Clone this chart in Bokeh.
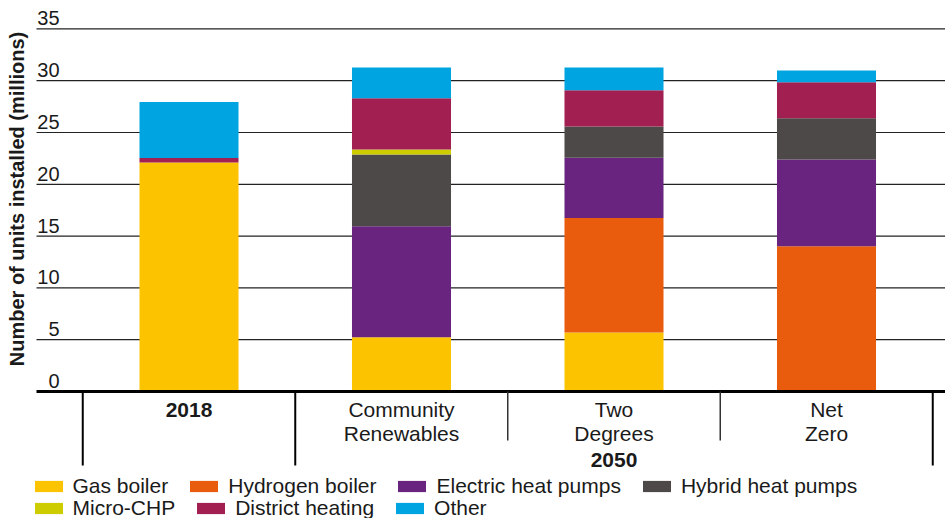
import math
from bokeh.plotting import figure
from bokeh.models import Range1d, Legend, LegendItem, ColumnDataSource
from bokeh.core.properties import value
from bokeh.embed import file_html
from bokeh.resources import INLINE

# ---------------- data ----------------
scenarios = ["2018", "Community\nRenewables", "Two\nDegrees", "Net\nZero"]
groups = ["", "2050", "2050", "2050"]
techs = ["Gas boiler", "Hydrogen boiler", "Electric heat pumps", "Hybrid heat pumps",
         "Micro-CHP", "District heating", "Other"]
gas_boiler = [22.1, 5.24, 5.7, 0.0]
hydrogen_boiler = [0.0, 0.0, 11.04, 14.03]
electric_heat_pumps = [0.0, 10.72, 5.83, 8.36]
hybrid_heat_pumps = [0.0, 6.92, 3.02, 3.99]
micro_chp = [0.0, 0.48, 0.0, 0.0]
district_heating = [0.45, 4.95, 3.5, 3.48]
other = [5.4, 2.96, 2.19, 1.12]
y_ticks = [0, 5, 10, 15, 20, 25, 30, 35]
y_title = "Number of units installed (millions)"

# ---------------- style ----------------
colors = ["#FCC400", "#E95C0E", "#69247F", "#4D4948", "#CDCC00", "#A21F51", "#00A4E1"]
FONT = "Liberation Sans"
TXT = "#1a1a1a"

W, H = 945, 518
X_UNIT = 212.5           # px per category
X0_PX = 188.5            # px of first category centre
Y_UNIT = 10.36           # px per million
Y0_PX = 391.0            # px of zero

x_start = -X0_PX / X_UNIT
x_end = (W - X0_PX) / X_UNIT
y_end = Y0_PX / Y_UNIT
y_start = -(H - Y0_PX) / Y_UNIT

def xd(px):
    return (px - X0_PX) / X_UNIT

def yd(px):
    return (Y0_PX - px) / Y_UNIT

p = figure(width=W, height=H, x_range=Range1d(x_start, x_end), y_range=Range1d(y_start, y_end),
           x_axis_type=None, y_axis_type=None, toolbar_location=None, output_backend="svg",
           min_border=0, outline_line_color=None, background_fill_color="white")
p.grid.visible = False

xs = list(range(len(scenarios)))
plot_left = xd(36)

# gridlines
grid_ticks = [t for t in y_ticks if t > 0]
p.segment(x0=[plot_left] * len(grid_ticks), x1=[x_end] * len(grid_ticks), y0=grid_ticks, y1=grid_ticks,
          line_color="#222222", line_width=1.2)

# bars
source = ColumnDataSource(dict(x=xs, **{
    techs[0]: gas_boiler, techs[1]: hydrogen_boiler, techs[2]: electric_heat_pumps,
    techs[3]: hybrid_heat_pumps, techs[4]: micro_chp, techs[5]: district_heating, techs[6]: other}))
renderers = p.vbar_stack(techs, x="x", width=0.466, fill_color=colors, line_color=None, source=source)

# baseline axis
p.segment(x0=[plot_left], x1=[x_end], y0=[0], y1=[0], line_color="black", line_width=3)

# tick labels (sitting above gridlines)
label_lift = 10.5 / Y_UNIT
p.text(x=[xd(59)] * len(y_ticks), y=[t + label_lift for t in y_ticks], text=[str(t) for t in y_ticks],
       text_align="right", text_baseline="middle",
       text_font=value(FONT), text_font_size="20px", text_color=TXT)

# y title
p.text(x=[xd(16.5)], y=[yd(198.5)], text=[y_title], angle=math.pi / 2,
       text_align="center", text_baseline="middle",
       text_font=value(FONT), text_font_size="20px", text_font_style="bold", text_color=TXT)

# category separators
bounds = [xs[0] - 0.5] + [x + 0.5 for x in xs]
outer = [True] + [groups[i] != groups[i + 1] if i + 1 < len(xs) else True for i in range(len(xs))]
long_bottom = yd(465)
short_bottom = yd(440)
for b, o in zip(bounds, outer):
    p.segment(x0=[b], x1=[b], y0=[0], y1=[long_bottom if o else short_bottom],
              line_color="black" if o else "#333", line_width=2 if o else 1.5)

# category labels
line1 = [s.split("\n")[0] for s in scenarios]
line2 = [s.split("\n")[1] if "\n" in s else "" for s in scenarios]
bold = [g == "" for g in groups]
b1 = yd(409)
b2 = yd(432.5)
p.text(x=[x for x, bb in zip(xs, bold) if bb], y=[b1] * sum(bold),
       text=[t for t, bb in zip(line1, bold) if bb], text_align="center", text_baseline="middle",
       text_font=value(FONT), text_font_size="21px", text_font_style="bold", text_color=TXT)
p.text(x=[x for x, bb in zip(xs, bold) if not bb], y=[b1] * (len(xs) - sum(bold)),
       text=[t for t, bb in zip(line1, bold) if not bb], text_align="center", text_baseline="middle",
       text_font=value(FONT), text_font_size="21px", text_color=TXT)
p.text(x=[x for x, bb in zip(xs, bold) if not bb], y=[b2] * (len(xs) - sum(bold)),
       text=[t for t, bb in zip(line2, bold) if not bb], text_align="center", text_baseline="middle",
       text_font=value(FONT), text_font_size="21px", text_color=TXT)
grp_x = [x for x, g in zip(xs, groups) if g == "2050"]
p.text(x=[sum(grp_x) / len(grp_x)], y=[yd(459)], text=["2050"], text_align="center",
       text_baseline="middle", text_font=value(FONT), text_font_size="21px",
       text_font_style="bold", text_color=TXT)

# legends (two flowing rows)
def make_legend(idx, loc):
    lg = Legend(items=[LegendItem(label=techs[i], renderers=[renderers[i]]) for i in idx],
                orientation="horizontal", location=loc, padding=0, margin=0, spacing=18,
                label_standoff=7, glyph_width=35, glyph_height=14, label_height=14,
                border_line_color=None, background_fill_alpha=0,
                label_text_font=FONT, label_text_font_size="21px", label_text_color=TXT)
    p.add_layout(lg)

make_legend([0, 1, 2, 3], (30.5, 20))
make_legend([4, 5, 6], (30.5, -2))

open("out.html", "w").write(file_html(p, INLINE))
